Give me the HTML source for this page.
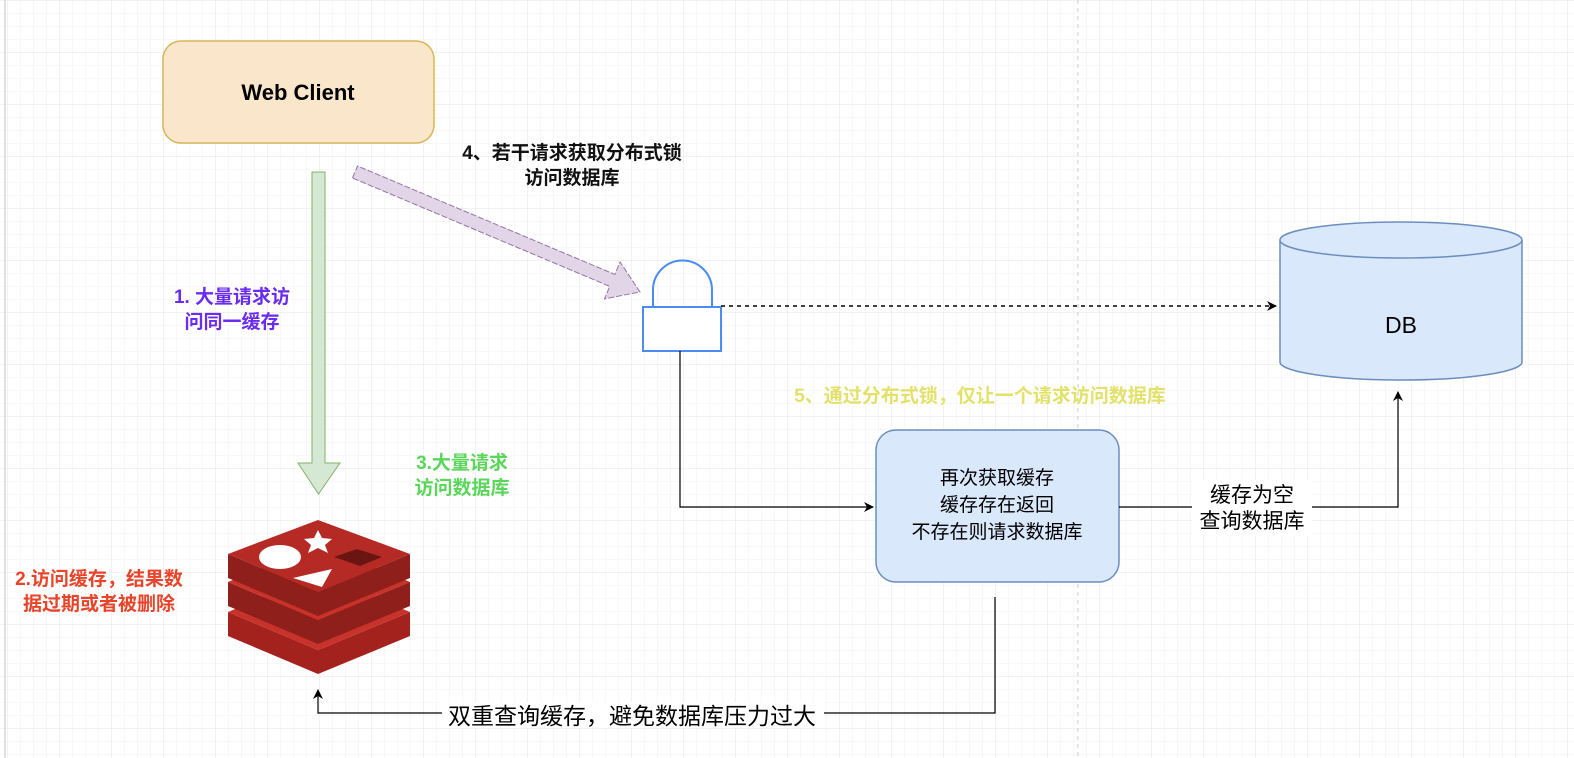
<!DOCTYPE html>
<html><head><meta charset="utf-8"><style>
body{margin:0;width:1574px;height:758px;overflow:hidden;background:#fff;font-family:"Liberation Sans","Noto Sans CJK SC",sans-serif}
</style></head><body>
<svg width="1574" height="758" xmlns="http://www.w3.org/2000/svg" style="position:absolute;left:0;top:0">
<defs>
<pattern id="g" x="8" y="1" width="13" height="13" patternUnits="userSpaceOnUse"><path d="M13 0V13M0 13H13" stroke="#f0f0f0" stroke-width="1" fill="none"/></pattern>
<pattern id="G" x="8" y="1" width="52" height="52" patternUnits="userSpaceOnUse"><path d="M52 0V52M0 52H52" stroke="#e4e4e4" stroke-width="1" fill="none"/></pattern>
<marker id="a" markerWidth="10" markerHeight="10" refX="9" refY="5" orient="auto" markerUnits="userSpaceOnUse"><path d="M0 0L10 5L0 10L3 5Z" fill="#000"/></marker>
</defs>
<rect width="1574" height="758" fill="url(#g)"/>
<rect width="1574" height="758" fill="url(#G)"/>
<line x1="5" y1="0" x2="5" y2="758" stroke="#e0e0e0" stroke-width="2"/>
<line x1="1078" y1="0" x2="1078" y2="758" stroke="#ccc" stroke-dasharray="4 4"/>
<rect x="163" y="41" width="271" height="102" rx="18" fill="#fae6cb" stroke="#d6b656" stroke-width="1.5"/>
<text x="298" y="100" text-anchor="middle" font-size="22" font-weight="bold" fill="#000">Web Client</text>
<path d="M312 172H325V463H340L318.5 494L298 463H312Z" fill="#d5e8d4" stroke="#82b366"/>
<path d="M352.5 178L357.5 166L614.8 274.4L620.1 262L640 292L604.5 298.8L609.8 286.4Z" fill="#e1d5e7" stroke="#9673a6" stroke-dasharray="6 2"/>
<path d="M653 307V290A29.5 29.5 0 0 1 712 290V307" fill="none" stroke="#4a8cf0" stroke-width="2"/>
<rect x="643" y="307" width="78" height="44" fill="#fff" stroke="#4a8cf0" stroke-width="2"/>
<line x1="721" y1="306" x2="1276" y2="306" stroke="#000" stroke-width="1.5" stroke-dasharray="4 4" marker-end="url(#a)"/>
<path d="M1280 240V362A121 18 0 0 0 1522 362V240" fill="#dae8fc" stroke="#6c8ebf" stroke-width="1.5"/>
<ellipse cx="1401" cy="240" rx="121" ry="18" fill="#dae8fc" stroke="#6c8ebf" stroke-width="1.5"/>
<text x="1401" y="333" text-anchor="middle" font-size="23" fill="#000">DB</text>
<rect x="876" y="430" width="243" height="152" rx="20" fill="#dae8fc" stroke="#6c8ebf" stroke-width="1.5"/>
<text text-anchor="middle" font-size="19" fill="#000"><tspan x="997" y="484">再次获取缓存</tspan><tspan x="997" y="511">缓存存在返回</tspan><tspan x="997" y="538">不存在则请求数据库</tspan></text>
<path d="M680 351V507H873" fill="none" stroke="#000" stroke-width="1.2" marker-end="url(#a)"/>
<path d="M1119 507H1398V392" fill="none" stroke="#000" stroke-width="1.2" marker-end="url(#a)"/>
<rect x="1192" y="480" width="120" height="56" fill="#fff"/>
<text text-anchor="middle" font-size="21" fill="#000"><tspan x="1252" y="502">缓存为空</tspan><tspan x="1252" y="528">查询数据库</tspan></text>
<path d="M995 597V713H318V690" fill="none" stroke="#000" stroke-width="1.2" marker-end="url(#a)"/>
<rect x="442" y="702" width="382" height="26" fill="#fff"/>
<text x="632" y="724" text-anchor="middle" font-size="23" fill="#000">双重查询缓存，避免数据库压力过大</text>
<text text-anchor="middle" font-size="19" font-weight="bold" fill="#6a2cf0"><tspan x="232" y="303">1. 大量请求访</tspan><tspan x="232" y="328">问同一缓存</tspan></text>
<text text-anchor="middle" font-size="19" font-weight="bold" fill="#5ad65a"><tspan x="462" y="469">3.大量请求</tspan><tspan x="462" y="494">访问数据库</tspan></text>
<text text-anchor="middle" font-size="19" font-weight="bold" fill="#e8442a"><tspan x="99" y="585">2.访问缓存，结果数</tspan><tspan x="99" y="610">据过期或者被删除</tspan></text>
<text text-anchor="middle" font-size="19" font-weight="bold" fill="#111"><tspan x="572" y="159">4、若干请求获取分布式锁</tspan><tspan x="572" y="184">访问数据库</tspan></text>
<text x="980" y="402" text-anchor="middle" font-size="19" font-weight="bold" fill="#e2e26a">5、通过分布式锁，仅让一个请求访问数据库</text>
<g>
<path d="M228 612L318 650L410 612V636L318 674L228 636Z" fill="#a3221d"/>
<path d="M228 612L318 574L410 612L318 650Z" fill="#c8322b"/>
<path d="M228 582L318 620L410 582V606L318 644L228 606Z" fill="#8f1f1a"/>
<path d="M228 582L318 544L410 582L318 620Z" fill="#c8322b"/>
<path d="M228 554L318 592L410 554V578L318 616L228 578Z" fill="#8f1f1a"/>
<path d="M228 554L318 520L410 554L318 592Z" fill="#b52a24"/>
<ellipse cx="280" cy="557" rx="21" ry="12" fill="#fff"/>
<path d="M318 530l4 8 10 1-7 6 3 8-10-5-10 5 3-8-7-6 10-1z" fill="#fff"/>
<path d="M293 578L332 569L322 587Z" fill="#fff"/>
<path d="M334 557L357 549L382 557L360 566Z" fill="#6b1512"/>
</g>
</svg>
</body></html>
